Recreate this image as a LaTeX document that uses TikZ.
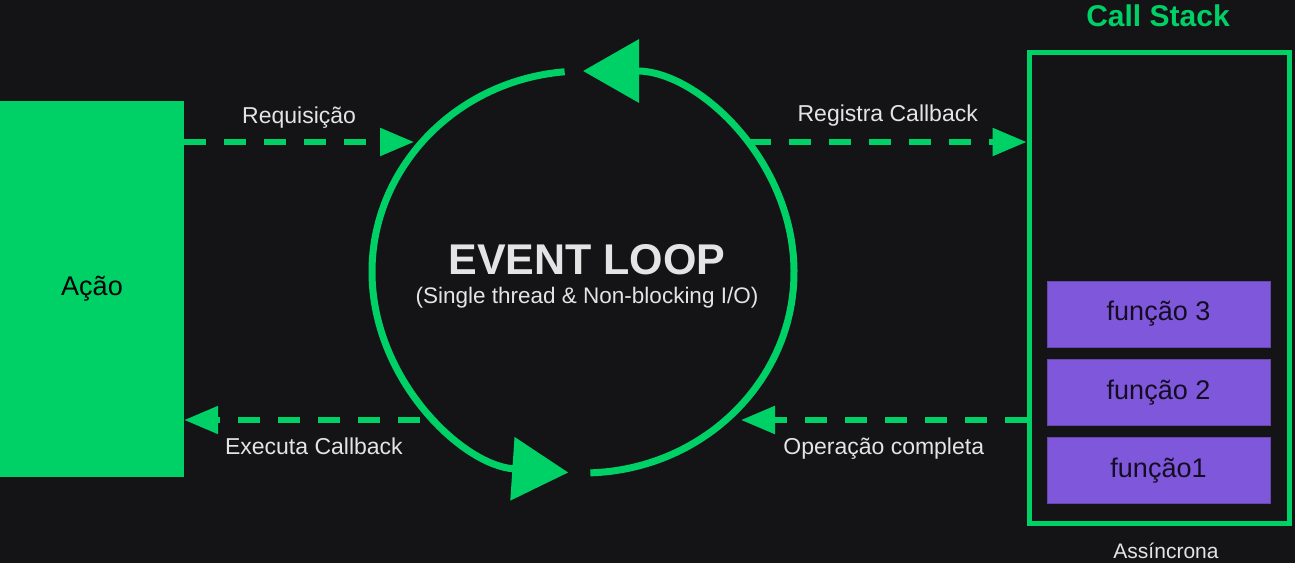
\documentclass[tikz,border=0pt]{standalone}
\usepackage{fontspec}
\setmainfont{Liberation Sans}
\usetikzlibrary{arrows.meta}
\definecolor{fundo}{HTML}{141417}
\definecolor{verde}{HTML}{00D166}
\definecolor{roxo}{HTML}{7F57DB}
\definecolor{claro}{HTML}{E4E4E4}
\tikzset{
	tracejado/.style={verde, line width=5.5pt, dash pattern=on 22pt off 18pt, -{Triangle[length=34pt,width=27pt]}},
	laco/.style={verde, line width=7pt, -{Triangle[length=56pt,width=62pt]}},
	rotulo/.style={text=claro, inner sep=0pt, font=\fontsize{23}{26}\selectfont},
	funcao/.style={fill=roxo, draw=roxo!80!black, minimum width=223pt, minimum height=66pt, text=black!85!roxo, font=\fontsize{27}{30}\selectfont}
}
\begin{document}
\begin{tikzpicture}[x=1pt,y=1pt]
			\useasboundingbox (0,0) rectangle (1295,563);
			\fill[fundo] (0,0) rectangle (1295,563);
			% blocos
			\node[fill=verde, minimum width=184pt, minimum height=376pt, font=\fontsize{27}{30}\selectfont] (acao) at (92,274) {Ação};
			\node[draw=verde, line width=5pt, minimum width=260pt, minimum height=470pt] (stack) at (1159,275) {};
			\node[text=verde, font=\bfseries\fontsize{30}{34}\selectfont] (titulo) at (1158,547) {Call Stack};
			\node[rotulo, font=\fontsize{21}{24}\selectfont] (assinc) at (1166,12) {Assíncrona};
			\node[funcao] (f3) at (1158.5,249) {função 3};
			\node[funcao] (f2) at (1158.5,170.5) {função 2};
			\node[funcao] (f1) at (1158.5,92.5) {função1};
			% event loop
			\coordinate (loop) at (583,291);
			\node[text=claro, font=\bfseries\fontsize{43}{48}\selectfont] (titloop) at (587,303) {EVENT LOOP};
			\node[rotulo, font=\fontsize{22.5}{26}\selectfont] (subloop) at (587,265) {(Single thread \& Non-blocking I/O)};
			\draw[laco] (loop) ++(95:211 and 201) arc[start angle=95, end angle=266, x radius=211, y radius=201];
			\draw[laco] (loop) ++(-88:211 and 201) arc[start angle=-88, end angle=90, x radius=211, y radius=201];
			% setas tracejadas
			\coordinate (req) at (414,421);
			\coordinate (reg) at (749,421);
			\coordinate (op) at (741,143);
			\coordinate (exec) at (420,143);
			\draw[tracejado] (acao.east |- req) -- (req) node[rotulo, midway, above=11pt] {Requisição};
			\draw[tracejado] (reg) -- (stack.west |- reg) node[rotulo, midway, above=13pt] {Registra Callback};
			\draw[tracejado] (stack.west |- op) -- (op) node[rotulo, midway, below=15pt] {Operação completa};
			\draw[tracejado] (exec) -- (acao.east |- exec) node[rotulo, pos=0.45, below=15pt] {Executa Callback};
		\end{tikzpicture}
\end{document}
